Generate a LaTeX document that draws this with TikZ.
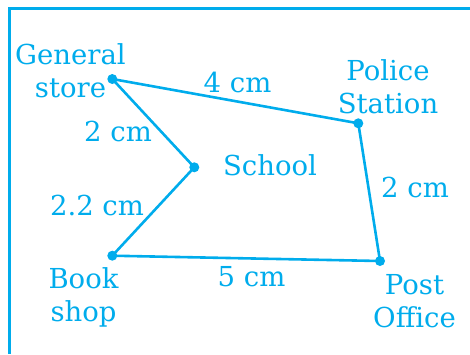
\documentclass[tikz,border=0pt]{standalone}
\usepackage{fontspec}
\setmainfont{DejaVu Serif}
\definecolor{mapblue}{RGB}{0,172,236}
\begin{document}
\begin{tikzpicture}[x=1pt,y=-1pt,
  lbl/.style={text=mapblue,inner sep=0pt,anchor=base,align=center,font=\fontsize{27.5}{33}\selectfont},
  place/.style={circle,fill=mapblue,inner sep=0pt,minimum size=10pt},
  road/.style={draw=mapblue,line width=2.6pt,line join=round},
  frame/.style={draw=mapblue,line width=2.8pt}]
\useasboundingbox (0,0) rectangle (470,354);
\coordinate (fb) at (9.7,354);
\coordinate (ft) at (9.7,8.3);
\coordinate (fr) at (470,8.3);
\draw[frame] (fb) -- (ft) -- (fr);
\node[place] (gs) at (112.3,79) {};
\node[place] (ps) at (358.3,123.3) {};
\node[place] (sc) at (194.3,167.3) {};
\node[place] (bs) at (112.3,255.7) {};
\node[place] (po) at (380,261) {};
\draw[road] (gs.center) -- (ps.center) -- (po.center) -- (bs.center) -- (sc.center) -- (gs.center) -- cycle;
\node[lbl] (tgs) at (70.5,97) {General\\store};
\node[lbl] (tps) at (388,113) {Police\\Station};
\node[lbl] (tsc) at (270,175) {School};
\node[lbl] (tbs) at (83.5,321) {Book\\shop};
\node[lbl] (tpo) at (414.5,327) {Post\\Office};
\node[lbl] (l1) at (237.5,92.7) {4 cm};
\node[lbl] (l2) at (118,141.7) {2 cm};
\node[lbl] (l3) at (97,215) {2.2 cm};
\node[lbl] (l4) at (251.5,286) {5 cm};
\node[lbl] (l5) at (415,197) {2 cm};
\end{tikzpicture}
\end{document}
